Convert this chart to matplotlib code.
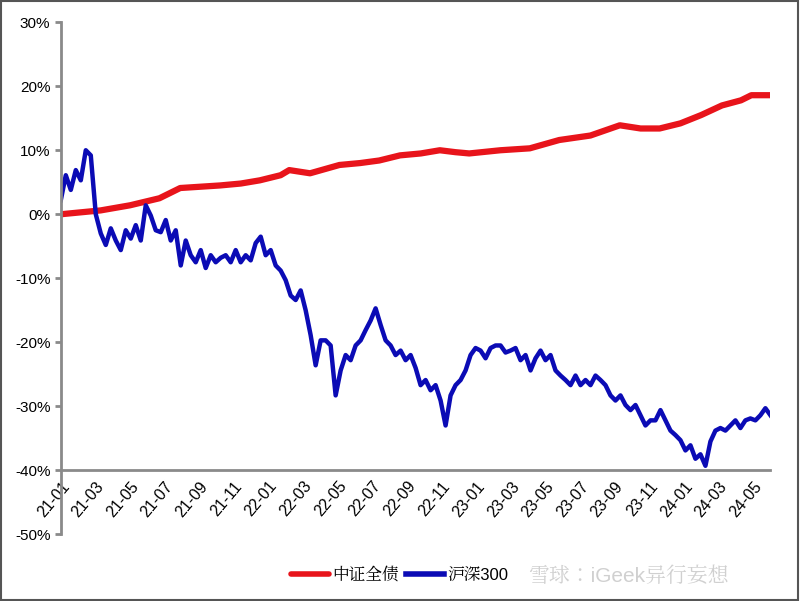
import numpy as np
import matplotlib.pyplot as plt
from matplotlib import font_manager
from matplotlib.patches import Rectangle

# pick an installed CJK font
cjk = [f.name for f in font_manager.fontManager.ttflist if "CJK" in f.name]
for f in font_manager.findSystemFonts():
    if "CJK" in f and not cjk:
        font_manager.fontManager.addfont(f)
        cjk = [font_manager.FontProperties(fname=f).get_name()]
plt.rcParams["font.family"] = ["Liberation Sans"] + (["Noto Sans CJK SC"] if "Noto Sans CJK SC" in cjk else cjk[:1])

tick_labels = ["21-01", "21-03", "21-05", "21-07", "21-09", "21-11", "22-01", "22-03",
               "22-05", "22-07", "22-09", "22-11", "23-01", "23-03", "23-05", "23-07",
               "23-09", "23-11", "24-01", "24-03", "24-05"]

# 中证全债 cumulative return (%), month offsets from 2021-01
bond_months = [0, 2.3, 4, 5.7, 6.9, 9.2, 10.4, 11.5, 12.7, 13.2, 14.4, 16.1, 17.3, 18.4,
               19.6, 20.8, 21.9, 22.8, 23.6, 25.4, 27.1, 28.8, 30.6, 32.3, 33.5, 34.6,
               35.8, 37, 38.2, 39.3, 39.9, 41]
bond_vals = [0, 0.6, 1.4, 2.5, 4.1, 4.5, 4.8, 5.3, 6.1, 6.9, 6.4, 7.7, 8, 8.4, 9.2, 9.5,
             10, 9.7, 9.5, 10, 10.3, 11.6, 12.3, 13.9, 13.4, 13.4, 14.2, 15.5, 17, 17.8,
             18.6, 18.6]

# 沪深300 cumulative return (%), roughly evenly spaced in time
csi_vals = [2.2, 6.1, 3.8, 6.9, 5.3, 10, 9.2, 0, -3, -4.8, -2.2, -4.1, -5.6, -2.5, -3.8,
            -1.7, -4.1, 1.4, -0.2, -2.5, -2.8, -0.9, -4.1, -2.5, -8, -4.1, -6.4, -7.5,
            -5.6, -8.4, -6.4, -7.5, -6.8, -6.4, -7.5, -5.6, -7.5, -6.4, -7.2, -4.5, -3.5,
            -6.4, -5.6, -8, -8.8, -10.3, -12.7, -13.4, -11.9, -15, -18.9, -23.6, -19.7,
            -19.7, -20.5, -28.3, -24.4, -22, -22.8, -20.5, -19.7, -18.1, -16.6, -14.7,
            -17.3, -19.7, -20.5, -22, -21.3, -22.8, -22, -24, -26.7, -25.9, -27.5, -26.7,
            -29.1, -33, -28.3, -26.7, -25.9, -24.4, -22, -20.9, -21.3, -22.5, -20.9,
            -20.5, -20.5, -21.6, -21.3, -20.9, -22.8, -22, -24.4, -22.5, -21.3, -22.8,
            -22, -24.4, -25.2, -25.9, -26.7, -25.2, -26.7, -25.9, -26.7, -25.2, -25.9,
            -26.7, -28.3, -29.1, -28.3, -29.8, -30.6, -29.8, -31.4, -33, -32.2, -32.2,
            -30.6, -32.2, -33.8, -34.5, -35.3, -36.9, -36.1, -38.2, -37.5, -39.3, -35.5,
            -33.8, -33.4, -33.8, -33, -32.2, -33.4, -32.2, -31.9, -32.2, -31.4, -30.3,
            -31.4]
csi_months = np.linspace(0, 41, len(csi_vals))

fig = plt.figure(figsize=(8, 6.01), dpi=100)
ax = fig.add_axes([0.076, 0.111, 0.887, 0.852])

for s in ["top", "right"]:
    ax.spines[s].set_visible(False)
ax.spines["bottom"].set_position(("data", -40))
for s in ["left", "bottom"]:
    ax.spines[s].set_color("#8a8a8a")
    ax.spines[s].set_linewidth(2)

ax.plot(bond_months, bond_vals, color="#e8141b", lw=4.5, label="中证全债", solid_capstyle="round")
ax.plot(csi_months, csi_vals, color="#0b0bb5", lw=3.2, label="沪深300")

ax.set_xlim(0, 41)
ax.set_ylim(-50, 30)
ax.set_yticks(range(-50, 31, 10))
ax.set_yticklabels([f"{v}%" for v in range(-50, 31, 10)], fontsize=11)

ax.set_xticks(range(0, 41, 2))
ax.set_xticklabels(tick_labels, fontsize=11.5, rotation=50, ha="right", rotation_mode="anchor")
ax.tick_params(axis="x", length=0, pad=6)
ax.set_xticks(range(2, 41, 2), minor=True)
ax.tick_params(axis="x", which="minor", length=5, width=2, color="#8a8a8a", direction="out")
ax.tick_params(axis="y", length=4, width=2, color="#8a8a8a")

leg = fig.legend(loc="lower left", bbox_to_anchor=(0.345, 0.005), ncol=2, frameon=False,
                 fontsize=12, handlelength=2.3, columnspacing=0.4, handletextpad=0.2)
for line in leg.get_lines():
    line.set_linewidth(4)
fig.text(0.66, 0.04, "雪球：iGeek异行妄想", fontsize=15, color="#d0d0d0", va="center")

fig.patches.append(Rectangle((0.001, 0.001), 0.997, 0.997, transform=fig.transFigure,
                             fill=False, edgecolor="#555555", lw=1.5))

fig.savefig("out.png", dpi=100)
